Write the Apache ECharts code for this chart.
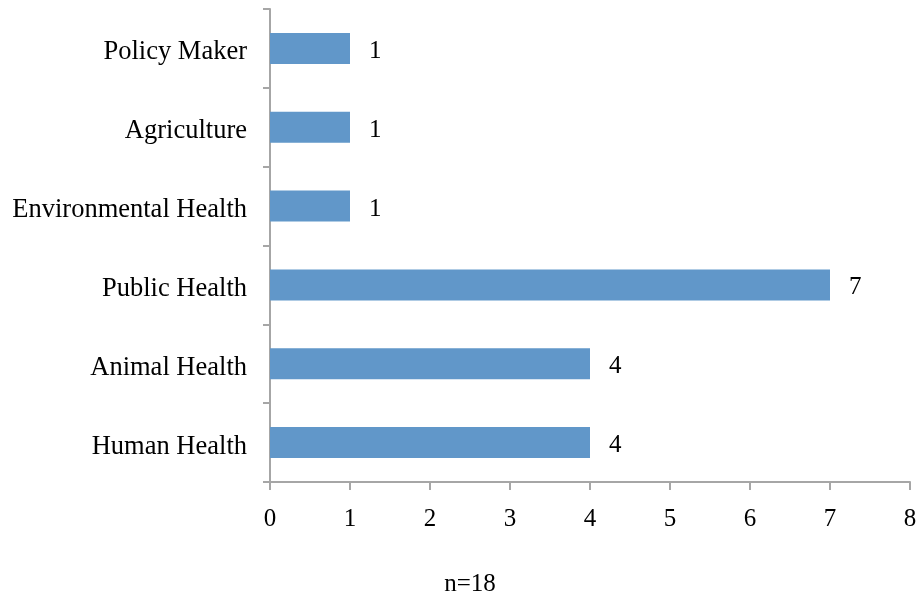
<!DOCTYPE html>
<html>
<head>
<meta charset="utf-8">
<script src="https://cdn.jsdelivr.net/npm/echarts@6/dist/echarts.min.js"></script>
<style>
  html, body { margin: 0; padding: 0; background: #fff; }
  #chart { width: 920px; height: 600px; }
</style>
</head>
<body>
<div id="chart"></div>
<script>
// Respondent sectors, listed bottom to top as drawn on the category axis
const sectors = ['Human Health', 'Animal Health', 'Public Health', 'Environmental Health', 'Agriculture', 'Policy Maker'];
const counts = [4, 4, 7, 1, 1, 1];
const sampleNote = 'n=18';

const serif = '"Liberation Serif", "DejaVu Serif", serif';
const axisGray = '#a6a6a6';

const chart = echarts.init(document.getElementById('chart'));
chart.setOption({
  animation: false,
  backgroundColor: '#ffffff',
  grid: { left: 270, right: 10, top: 9, bottom: 118, containLabel: false },
  xAxis: {
    type: 'value',
    min: 0,
    max: 8,
    interval: 1,
    axisLine: { show: true, lineStyle: { color: axisGray, width: 2 } },
    axisTick: { show: true, length: 8, lineStyle: { color: axisGray, width: 2 } },
    axisLabel: { color: '#000', fontFamily: serif, fontSize: 25, margin: 25 },
    splitLine: { show: false }
  },
  yAxis: {
    type: 'category',
    data: sectors,
    axisLine: { show: true, lineStyle: { color: axisGray, width: 2 } },
    axisTick: { show: true, length: 7, lineStyle: { color: axisGray, width: 2 } },
    axisLabel: {
      color: '#000', fontFamily: serif, fontSize: 26.5, margin: 23,
      lineHeight: 34, verticalAlign: 'top', padding: [-13, 0, 0, 0]
    }
  },
  series: [{
    type: 'bar',
    data: counts,
    barWidth: 31,
    itemStyle: { color: '#6197c9' },
    label: {
      show: true,
      position: 'right',
      distance: 19,
      color: '#000',
      fontFamily: serif,
      fontSize: 25,
      offset: [0, 3]
    }
  }],
  graphic: [{
    type: 'text',
    x: 470,
    y: 584,
    style: {
      text: sampleNote,
      fill: '#000',
      font: '25px ' + serif,
      align: 'center',
      verticalAlign: 'middle'
    }
  }]
});
</script>
</body>
</html>
